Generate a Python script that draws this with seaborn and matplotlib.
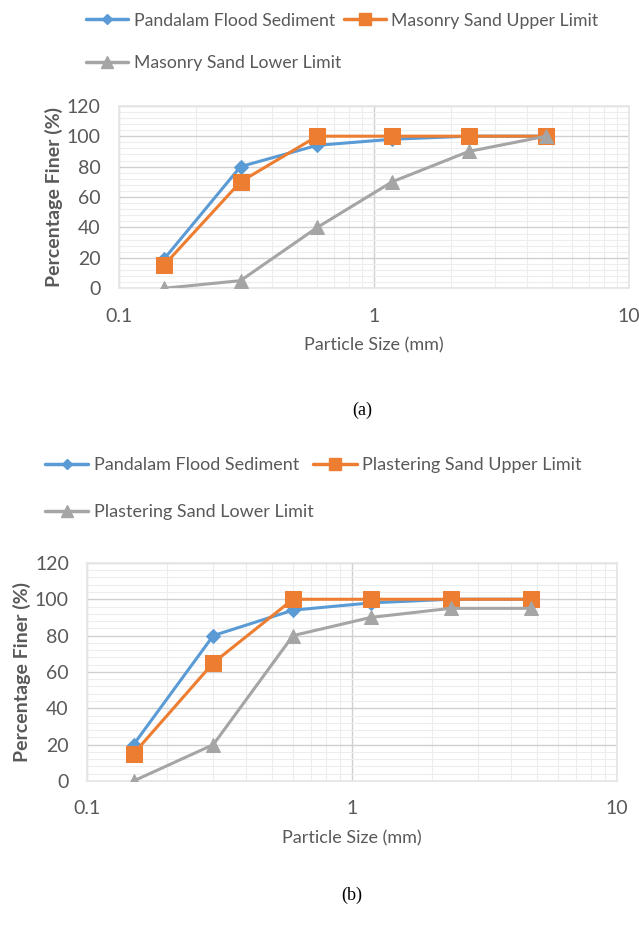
import matplotlib
matplotlib.use("Agg")
import matplotlib.pyplot as plt
import seaborn as sns
import pandas as pd
from matplotlib.ticker import FixedLocator, MultipleLocator, NullFormatter
from matplotlib.lines import Line2D

sieve_mm = [0.15, 0.3, 0.6, 1.18, 2.36, 4.75]

# Panel (a)
a_names = ["Pandalam Flood Sediment", "Masonry Sand Upper Limit", "Masonry Sand Lower Limit"]
a_pandalam = [19, 80, 94, 98, 100, 100]
a_upper = [15, 70, 100, 100, 100, 100]
a_lower = [0, 5, 40, 70, 90, 100]

# Panel (b)
b_names = ["Pandalam Flood Sediment", "Plastering Sand Upper Limit", "Plastering Sand Lower Limit"]
b_pandalam = [20, 80, 94, 98, 100, 100]
b_upper = [15, 65, 100, 100, 100, 100]
b_lower = [0, 20, 80, 90, 95, 95]

x_ticks = [0.1, 1, 10]
x_tick_labels = ["0.1", "1", "10"]
y_ticks = [0, 20, 40, 60, 80, 100, 120]

colors = ["#5B9BD5", "#ED7D31", "#A5A5A5"]
markers = ["D", "s", "^"]
msizes = [7, 11, 10]

sns.set_theme(style="white")
FONT = ["Lato", "DejaVu Sans"]
plt.rcParams["font.family"] = FONT
TXT = "#595959"

fig = plt.figure(figsize=(6.39, 9.36), dpi=100)


def make_df(names, series):
    rows = []
    for n, vals in zip(names, series):
        for x, v in zip(sieve_mm, vals):
            rows.append({"size": x, "pct": v, "series": n})
    return pd.DataFrame(rows)


def draw(ax, names, series):
    df = make_df(names, series)
    for i, n in enumerate(names):
        sub = df[df["series"] == n]
        sns.lineplot(data=sub, x="size", y="pct", ax=ax, color=colors[i],
                     marker=markers[i], markersize=msizes[i], linewidth=2.2,
                     markeredgecolor=colors[i], legend=False, zorder=3 + i * 0.1)
    ax.set_xscale("log")
    ax.set_xlim(0.1, 10)
    ax.set_ylim(0, 120)
    ax.xaxis.set_major_locator(FixedLocator(x_ticks))
    ax.set_xticklabels(x_tick_labels)
    ax.xaxis.set_minor_locator(FixedLocator([m * d for d in (0.1, 1) for m in range(2, 10)]))
    ax.xaxis.set_minor_formatter(NullFormatter())
    ax.yaxis.set_major_locator(FixedLocator(y_ticks))
    ax.yaxis.set_minor_locator(MultipleLocator(4))
    ax.grid(which="major", color="#D0D0D0", linewidth=1.0)
    ax.grid(which="minor", color="#EDEDED", linewidth=0.8)
    ax.set_axisbelow(True)
    for s in ax.spines.values():
        s.set_color("#E6E6E6")
    ax.tick_params(which="both", length=0, colors=TXT, labelsize=14)
    ax.tick_params(axis="y", pad=13)
    ax.tick_params(axis="x", pad=14)
    ax.set_xlabel("Particle Size (mm)", color=TXT, fontsize=13, labelpad=9)
    ax.set_ylabel("Percentage Finer (%)", color=TXT, fontsize=14, fontweight="bold", labelpad=3)


def legend_handles(names):
    return [Line2D([0], [0], color=colors[i], marker=markers[i], markersize=msizes[i] * 0.8,
                   linewidth=2.5, markeredgecolor=colors[i], label=names[i]) for i in range(3)]


ax1 = fig.add_axes([0.186, 0.692, 0.798, 0.195])
draw(ax1, a_names, [a_pandalam, a_upper, a_lower])
h = legend_handles(a_names)
fig.legend(handles=h[:2], loc="center left", bbox_to_anchor=(0.11, 0.978), ncol=2,
           frameon=False, fontsize=12.7, handlelength=2.4, columnspacing=0.5, handletextpad=0.3,
           labelcolor=TXT)
fig.legend(handles=h[2:], loc="center left", bbox_to_anchor=(0.11, 0.933), frameon=False,
           fontsize=12.7, handlelength=2.4, handletextpad=0.3, labelcolor=TXT)
fig.text(0.567, 0.562, "(a)", ha="center", va="center", fontsize=13,
         family=["Liberation Serif", "DejaVu Serif"], color="black")

ax2 = fig.add_axes([0.136, 0.1656, 0.829, 0.233])
draw(ax2, b_names, [b_pandalam, b_upper, b_lower])
h = legend_handles(b_names)
fig.legend(handles=h[:2], loc="center left", bbox_to_anchor=(0.045, 0.503), ncol=2,
           frameon=False, fontsize=13, handlelength=2.4, columnspacing=0.8, handletextpad=0.3,
           labelcolor=TXT)
fig.legend(handles=h[2:], loc="center left", bbox_to_anchor=(0.045, 0.453), frameon=False,
           fontsize=13, handlelength=2.4, handletextpad=0.3, labelcolor=TXT)
fig.text(0.55, 0.043, "(b)", ha="center", va="center", fontsize=13,
         family=["Liberation Serif", "DejaVu Serif"], color="black")

fig.savefig("out.png", dpi=100)
